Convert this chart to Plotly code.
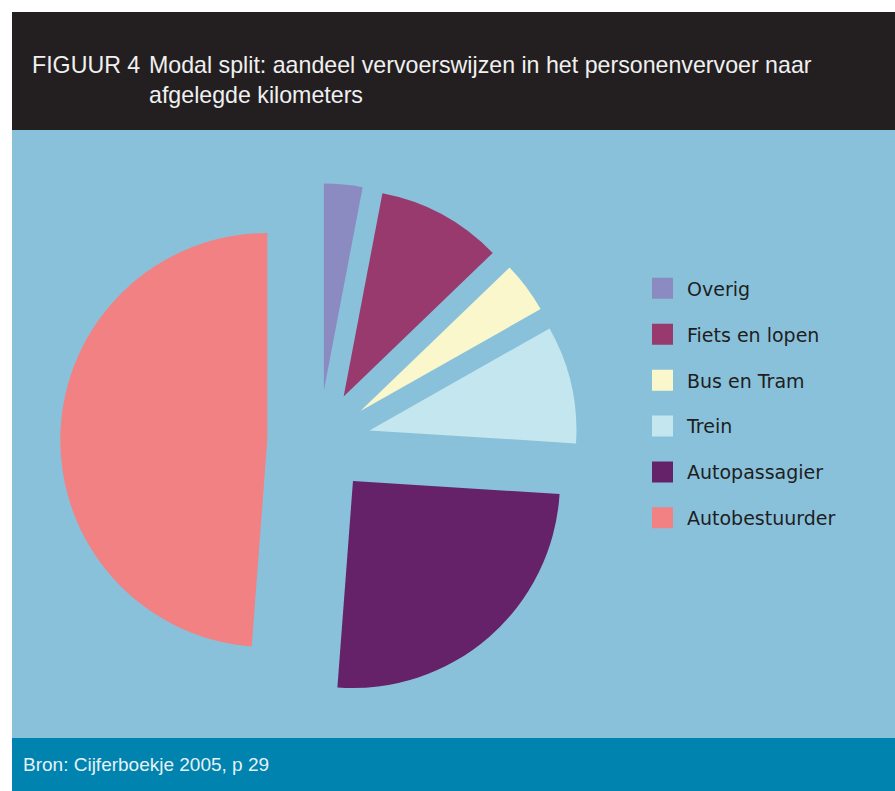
import plotly.graph_objects as go

# ---- data ----
labels = ["Overig", "Fiets en lopen", "Bus en Tram", "Trein", "Autopassagier", "Autobestuurder"]
shares = [3.0, 9.8, 4.0, 9.2, 25.2, 48.8]
colors = ["#8b8bc1", "#993a6e", "#f9f7cb", "#c3e6ef", "#652268", "#f28183"]

title_tag = "FIGUUR 4"
title_lines = ["Modal split: aandeel vervoerswijzen in het personenvervoer naar",
               "afgelegde kilometers"]
source_text = "Bron: Cijferboekje 2005, p 29"

# ---- layout helpers (page pixels -> paper fractions) ----
W, H = 895, 791


def px(x):
    return x / W


def py(y):
    return 1 - y / H


fig = go.Figure()

# main exploded pie
fig.add_trace(go.Pie(
    labels=labels,
    values=shares,
    marker=dict(colors=colors, line=dict(width=0)),
    sort=False,
    direction="clockwise",
    rotation=0,
    pull=[0.25] * len(labels),
    textinfo="none",
    showlegend=False,
    domain=dict(x=[px(60.25), px(577.75)], y=[py(700.75), py(183.25)]),
))

# legend entries (large square swatches)
for lab, col in zip(labels, colors):
    fig.add_trace(go.Scatter(
        x=[None], y=[None], mode="markers", name=lab, legendgroup=lab,
        marker=dict(symbol="square", size=16, color=col, line=dict(color=col, width=5)),
        hoverinfo="skip",
    ))

shapes = [
    dict(type="rect", xref="paper", yref="paper", layer="below",
         x0=px(12), x1=1, y0=py(130), y1=py(12), fillcolor="#231f20", line=dict(width=0)),
    dict(type="rect", xref="paper", yref="paper", layer="below",
         x0=px(12), x1=1, y0=py(738), y1=py(130), fillcolor="#89c1db", line=dict(width=0)),
    dict(type="rect", xref="paper", yref="paper", layer="below",
         x0=px(12), x1=1, y0=0, y1=py(738), fillcolor="#0083ae", line=dict(width=0)),
]

title_font = dict(family="Liberation Sans", size=23.2, color="#f0f0f0")
annotations = [
    dict(text=title_tag, x=px(30), y=py(65), xref="paper", yref="paper",
         xanchor="left", yanchor="middle", showarrow=False, font=title_font),
    dict(text=title_lines[0], x=px(147), y=py(65), xref="paper", yref="paper",
         xanchor="left", yanchor="middle", showarrow=False, font=title_font),
    dict(text=title_lines[1], x=px(147), y=py(95), xref="paper", yref="paper",
         xanchor="left", yanchor="middle", showarrow=False, font=title_font),
    dict(text=source_text, x=px(21), y=py(764), xref="paper", yref="paper",
         xanchor="left", yanchor="middle", showarrow=False,
         font=dict(family="Liberation Sans", size=19, color="#e6f1f6")),
]

fig.update_layout(
    width=W, height=H,
    margin=dict(l=0, r=0, t=0, b=0),
    paper_bgcolor="white",
    plot_bgcolor="rgba(0,0,0,0)",
    xaxis=dict(visible=False),
    yaxis=dict(visible=False),
    legend=dict(
        x=px(638), y=py(269.5), xanchor="left", yanchor="top",
        font=dict(family="DejaVu Sans", size=19, color="#1e1e1e"),
        itemwidth=39, tracegroupgap=18.2, bgcolor="rgba(0,0,0,0)",
    ),
    shapes=shapes,
    annotations=annotations,
)

fig.write_html("out.html")
